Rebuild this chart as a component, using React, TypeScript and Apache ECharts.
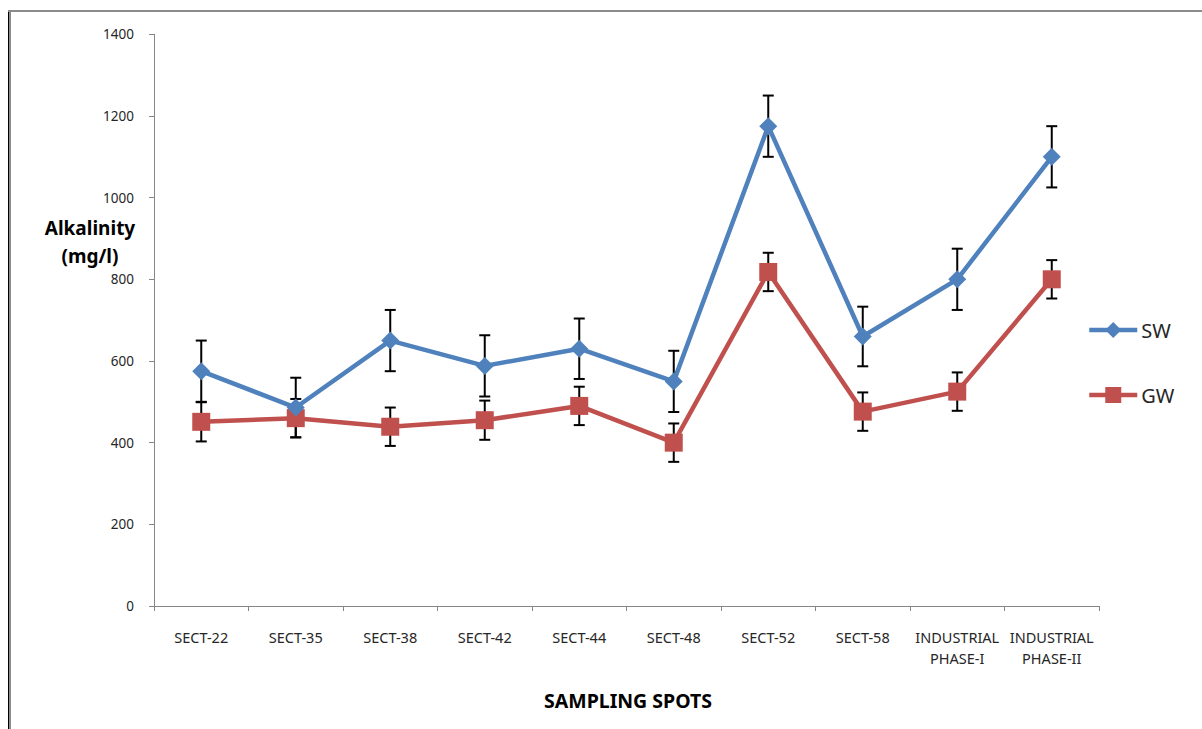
import React, { useEffect, useRef } from "react";
import * as echarts from "echarts";

// Sampling spots along the x axis
const categories = [
  "SECT-22",
  "SECT-35",
  "SECT-38",
  "SECT-42",
  "SECT-44",
  "SECT-48",
  "SECT-52",
  "SECT-58",
  "INDUSTRIAL\nPHASE-I",
  "INDUSTRIAL\nPHASE-II",
];

// Mean alkalinity (mg/l) for surface water and ground water
const swValues = [575, 486, 650, 588, 630, 550, 1175, 660, 800, 1100];
const gwValues = [451, 460, 439, 455, 490, 400, 818, 476, 525, 800];

// Error bar half-lengths (mg/l)
const swErrors = [75, 73, 75, 75, 74, 75, 75, 73, 75, 75];
const gwErrors = [48, 47, 47, 48, 47, 47, 47, 47, 47, 47];

// Y axis scale
const yMin = 0;
const yMax = 1400;
const yStep = 200;

const FONT = "'Noto Sans', 'Open Sans', sans-serif";
const SW_COLOR = "#4F81BD";
const GW_COLOR = "#C0504D";

function errorSeries(name: string, values: number[], errors: number[]) {
  const data = values.map((v, i) => [i, v - errors[i], v + errors[i]]);
  return {
    type: "custom",
    name,
    z: 1,
    silent: true,
    encode: { x: 0, y: [1, 2] },
    data,
    renderItem: (_params: any, api: any) => {
      const idx = api.value(0);
      const low = api.coord([idx, api.value(1)]);
      const high = api.coord([idx, api.value(2)]);
      const half = 5.5;
      const style = { stroke: "#000", lineWidth: 2 };
      return {
        type: "group",
        children: [
          { type: "line", shape: { x1: high[0], y1: high[1], x2: low[0], y2: low[1] }, style },
          { type: "line", shape: { x1: high[0] - half, y1: high[1], x2: high[0] + half, y2: high[1] }, style },
          { type: "line", shape: { x1: low[0] - half, y1: low[1], x2: low[0] + half, y2: low[1] }, style },
        ],
      };
    },
  };
}

export default function App() {
  const ref = useRef<HTMLDivElement>(null);

  useEffect(() => {
    if (!ref.current) return;
    const chart = echarts.init(ref.current, undefined, { renderer: "svg" });

    chart.setOption({
      animation: false,
      backgroundColor: "#ffffff",
      grid: {
        left: 154,
        right: 103,
        top: 34.3,
        bottom: 123,
        containLabel: false,
        outerBoundsMode: "none",
      },
      legend: {
        orient: "vertical",
        left: 1087,
        top: 320,
        padding: 0,
        itemWidth: 48,
        itemHeight: 20,
        itemGap: 45,
        lineStyle: { width: 4.5 },
        textStyle: { fontFamily: FONT, fontSize: 20, color: "#262626", padding: [0, 0, 0, -1] },
        data: ["SW", "GW"],
      },
      xAxis: {
        type: "category",
        data: categories,
        boundaryGap: true,
        axisLine: { lineStyle: { color: "#868686", width: 1 } },
        axisTick: { show: true, length: 5, lineStyle: { color: "#868686" } },
        axisLabel: {
          interval: 0,
          margin: 20,
          fontFamily: FONT,
          fontSize: 14.5,
          lineHeight: 21,
          color: "#262626",
        },
        splitLine: { show: false },
      },
      yAxis: {
        type: "value",
        min: yMin,
        max: yMax,
        interval: yStep,
        axisLine: { show: true, lineStyle: { color: "#868686", width: 1 } },
        axisTick: { show: true, length: 5, lineStyle: { color: "#868686" } },
        axisLabel: {
          margin: 20,
          fontFamily: FONT,
          fontSize: 13.5,
          color: "#262626",
          formatter: (v: number) => String(v),
        },
        splitLine: { show: false },
      },
      series: [
        errorSeries("SW error", swValues, swErrors),
        errorSeries("GW error", gwValues, gwErrors),
        {
          name: "SW",
          type: "line",
          z: 3,
          data: swValues,
          symbol: "diamond",
          symbolSize: 18,
          itemStyle: { color: SW_COLOR },
          lineStyle: { color: SW_COLOR, width: 4.5 },
        },
        {
          name: "GW",
          type: "line",
          z: 2,
          data: gwValues,
          symbol: "rect",
          symbolSize: 18,
          itemStyle: { color: GW_COLOR },
          lineStyle: { color: GW_COLOR, width: 4.5 },
        },
      ],
      graphic: [
        // outer frame
        { type: "rect", shape: { x: 8, y: 10, width: 1, height: 719 }, style: { fill: "#000" } },
        { type: "rect", shape: { x: 9, y: 10, width: 2, height: 719 }, style: { fill: "#8c8c8c" } },
        { type: "rect", shape: { x: 8, y: 10, width: 1194, height: 2 }, style: { fill: "#8c8c8c" } },
        // axis titles
        {
          type: "text",
          x: 90,
          y: 242,
          style: {
            text: "Alkalinity\n(mg/l)",
            fontFamily: FONT,
            fontWeight: "bold",
            fontSize: 19,
            lineHeight: 28,
            align: "center",
            verticalAlign: "middle",
            fill: "#000",
          },
        },
        {
          type: "text",
          x: 628,
          y: 700,
          style: {
            text: "SAMPLING SPOTS",
            fontFamily: FONT,
            fontWeight: "bold",
            fontSize: 19.5,
            align: "center",
            verticalAlign: "middle",
            fill: "#000",
          },
        },
      ],
    });

    return () => chart.dispose();
  }, []);

  return (
    <div
      ref={ref}
      style={{ position: "fixed", left: 0, top: 0, width: 1202, height: 729, background: "#fff" }}
    />
  );
}
